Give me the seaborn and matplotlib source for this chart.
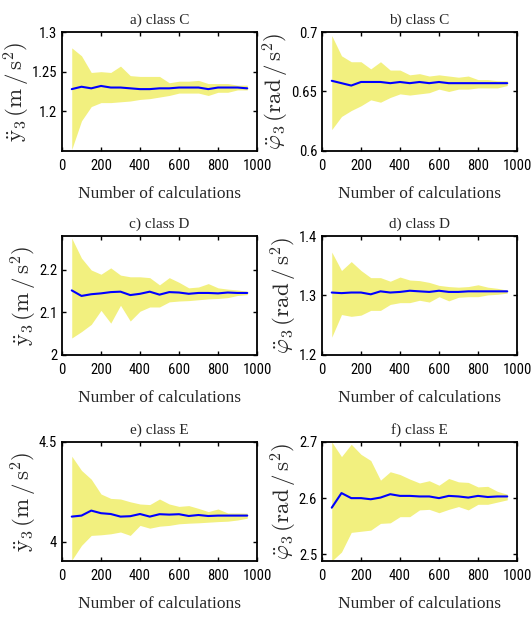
import matplotlib
matplotlib.use("Agg")
import matplotlib.pyplot as plt
from matplotlib import font_manager
import pandas as pd
import seaborn as sns

calcs = [50, 100, 150, 200, 250, 300, 350, 400, 450, 500,
         550, 600, 650, 700, 750, 800, 850, 900, 950]

# a) class C, y3 acceleration
a_mean = [1.228, 1.231, 1.229, 1.232, 1.230, 1.230, 1.229, 1.228, 1.228, 1.229,
          1.229, 1.230, 1.230, 1.230, 1.228, 1.230, 1.230, 1.230, 1.229]
a_upper = [1.280, 1.270, 1.249, 1.250, 1.249, 1.257, 1.245, 1.244, 1.244, 1.244,
           1.236, 1.238, 1.238, 1.239, 1.235, 1.235, 1.235, 1.233, 1.233]
a_lower = [1.152, 1.188, 1.206, 1.211, 1.211, 1.212, 1.213, 1.215, 1.216, 1.218,
           1.220, 1.223, 1.223, 1.223, 1.220, 1.224, 1.224, 1.227, 1.227]

# b) class C, phi3 acceleration
b_mean = [0.659, 0.657, 0.655, 0.658, 0.658, 0.658, 0.657, 0.658, 0.657, 0.658,
          0.657, 0.658, 0.657, 0.657, 0.657, 0.657, 0.657, 0.657, 0.657]
b_upper = [0.697, 0.680, 0.675, 0.675, 0.669, 0.675, 0.668, 0.668, 0.664, 0.665,
           0.663, 0.664, 0.663, 0.662, 0.663, 0.660, 0.660, 0.659, 0.659]
b_lower = [0.618, 0.629, 0.634, 0.638, 0.643, 0.641, 0.645, 0.648, 0.647, 0.648,
           0.649, 0.652, 0.650, 0.652, 0.652, 0.653, 0.653, 0.653, 0.655]

# c) class D, y3
c_mean = [2.152, 2.139, 2.143, 2.145, 2.148, 2.149, 2.141, 2.144, 2.149, 2.142,
          2.148, 2.147, 2.144, 2.146, 2.146, 2.145, 2.147, 2.146, 2.146]
c_upper = [2.275, 2.228, 2.200, 2.190, 2.205, 2.188, 2.184, 2.184, 2.182, 2.165,
           2.182, 2.171, 2.158, 2.160, 2.168, 2.158, 2.155, 2.153, 2.150]
c_lower = [2.040, 2.055, 2.072, 2.105, 2.075, 2.117, 2.080, 2.103, 2.113, 2.113,
           2.125, 2.127, 2.128, 2.130, 2.132, 2.133, 2.135, 2.140, 2.142]

# d) class D, phi3
d_mean = [1.305, 1.304, 1.305, 1.305, 1.302, 1.307, 1.305, 1.306, 1.308, 1.307,
          1.306, 1.308, 1.306, 1.306, 1.307, 1.307, 1.307, 1.307, 1.307]
d_upper = [1.373, 1.342, 1.357, 1.342, 1.330, 1.330, 1.324, 1.331, 1.326, 1.325,
           1.322, 1.317, 1.315, 1.314, 1.315, 1.318, 1.314, 1.312, 1.309]
d_lower = [1.230, 1.268, 1.265, 1.267, 1.275, 1.275, 1.285, 1.288, 1.288, 1.292,
           1.289, 1.298, 1.291, 1.297, 1.298, 1.298, 1.301, 1.302, 1.304]

# e) class E, y3
e_mean = [4.127, 4.132, 4.157, 4.144, 4.140, 4.127, 4.129, 4.140, 4.127, 4.139,
          4.137, 4.139, 4.130, 4.135, 4.130, 4.132, 4.132, 4.132, 4.132]
e_upper = [4.429, 4.358, 4.314, 4.240, 4.218, 4.215, 4.201, 4.190, 4.187, 4.215,
           4.190, 4.178, 4.182, 4.168, 4.152, 4.165, 4.145, 4.145, 4.144]
e_lower = [3.909, 3.983, 4.033, 4.036, 4.041, 4.050, 4.033, 4.083, 4.069, 4.079,
           4.083, 4.091, 4.094, 4.096, 4.099, 4.102, 4.104, 4.110, 4.119]

# f) class E, phi3
f_mean = [2.583, 2.609, 2.600, 2.600, 2.598, 2.601, 2.607, 2.604, 2.604, 2.603,
          2.603, 2.600, 2.604, 2.603, 2.601, 2.604, 2.602, 2.603, 2.603]
f_upper = [2.700, 2.674, 2.696, 2.678, 2.667, 2.632, 2.647, 2.642, 2.634, 2.627,
           2.631, 2.623, 2.635, 2.629, 2.628, 2.620, 2.621, 2.612, 2.607]
f_lower = [2.488, 2.504, 2.539, 2.541, 2.543, 2.555, 2.556, 2.567, 2.567, 2.579,
           2.580, 2.574, 2.580, 2.585, 2.579, 2.589, 2.589, 2.593, 2.597]

titles = ["a) class C", "b) class C", "c) class D", "d) class D", "e) class E", "f) class E"]
ylab_y = r"$\mathrm{\ddot{y}_3\,(m\,/\,s^2)}$"
ylab_phi = r"$\ddot{\varphi}_3\,\mathrm{(rad\,/\,s^2)}$"
ylims = [(1.15, 1.30), (0.60, 0.70), (2.00, 2.28), (1.20, 1.40), (3.905, 4.50), (2.488, 2.70)]
yticks = [[1.2, 1.25, 1.3], [0.6, 0.65, 0.7], [2, 2.1, 2.2], [1.2, 1.3, 1.4], [4, 4.5], [2.5, 2.6, 2.7]]
xticks = [0, 200, 400, 600, 800, 1000]

panels = [
    (a_mean, a_lower, a_upper, ylab_y),
    (b_mean, b_lower, b_upper, ylab_phi),
    (c_mean, c_lower, c_upper, ylab_y),
    (d_mean, d_lower, d_upper, ylab_phi),
    (e_mean, e_lower, e_upper, ylab_y),
    (f_mean, f_lower, f_upper, ylab_phi),
]


def narrow_font():
    # pick a condensed sans for tick labels if one is installed
    fonts = font_manager.fontManager.ttflist
    names = {f.name for f in fonts}
    for n in ["Liberation Sans Narrow", "Roboto Condensed", "Open Sans Condensed"]:
        if n in names:
            return {"family": n}
    for f in fonts:
        if f.name == "DejaVu Sans" and "ondensed" in f.fname:
            return {"family": "DejaVu Sans", "stretch": "condensed"}
    return {"family": "Liberation Sans"}


sns.set_style("ticks")
plt.rcParams["font.family"] = ["Liberation Serif", "DejaVu Serif"]
plt.rcParams["mathtext.fontset"] = "cm"

tick_kw = narrow_font()
tick_size = 10.5 if tick_kw["family"] != "Liberation Sans" else 9

fig = plt.figure(figsize=(5.31, 6.21), dpi=100)
W, H = 531, 621
lefts = [62, 322]
tops = [32, 236, 442]
aw, ah = 195, 119

for i, (mean, lo, hi, ylab) in enumerate(panels):
    r, c = divmod(i, 2)
    ax = fig.add_axes([lefts[c] / W, 1 - (tops[r] + ah) / H, aw / W, ah / H])
    df = pd.DataFrame({"n": calcs, "mean": mean, "lo": lo, "hi": hi})
    ax.fill_between(df["n"], df["lo"], df["hi"], color="#f2f07f", linewidth=0)
    sns.lineplot(data=df, x="n", y="mean", ax=ax, color="#0000ff", linewidth=1.5)
    ax.set_xlim(0, 1000)
    ax.set_ylim(*ylims[i])
    ax.set_xticks(xticks)
    ax.set_yticks(yticks[i])
    ax.set_yticklabels([f"{v:g}" for v in yticks[i]], fontsize=tick_size, **tick_kw)
    ax.set_xticklabels([str(v) for v in xticks], fontsize=tick_size, **tick_kw)
    ax.tick_params(axis="x", pad=6)
    ax.tick_params(direction="in", top=True, right=True, length=3, width=1,
                   colors="black")
    for s in ax.spines.values():
        s.set_visible(True)
        s.set_linewidth(1.3)
        s.set_color("black")
    ax.set_title(titles[i], fontsize=11, pad=6)
    ax.set_xlabel("Number of calculations", fontsize=12.5, labelpad=9)
    ax.set_ylabel(ylab, fontsize=16.5, labelpad=0)

fig.savefig("out.png", dpi=100, facecolor="white")
